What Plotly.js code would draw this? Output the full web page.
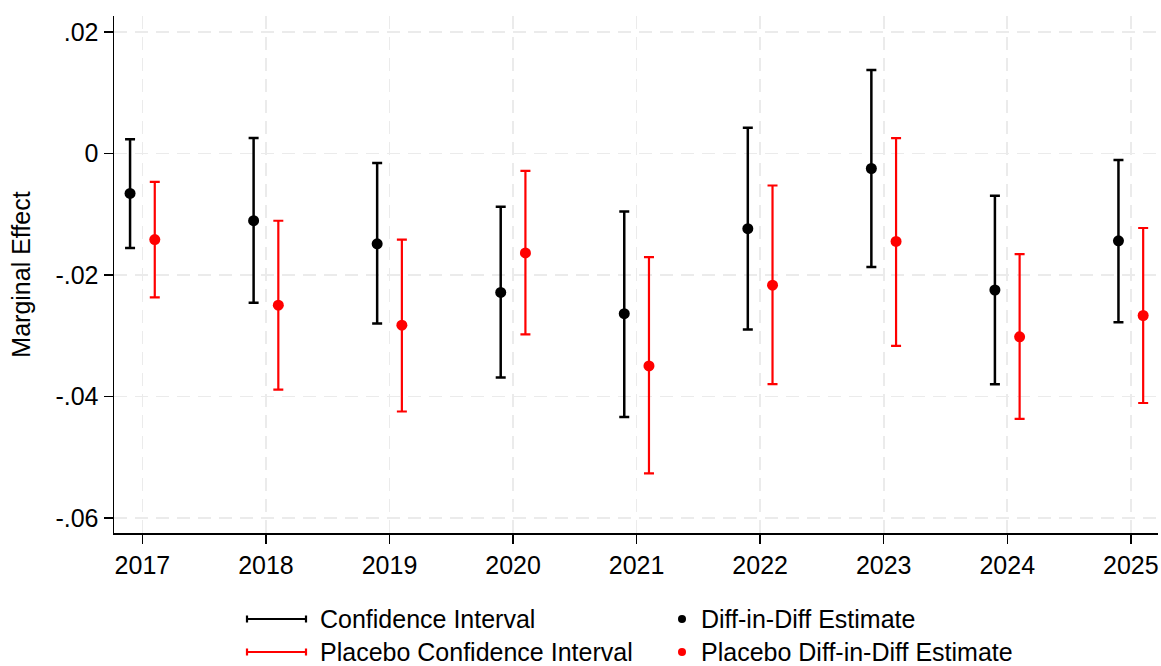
<!DOCTYPE html>
<html>
<head>
<meta charset="utf-8">
<script src="https://cdn.plot.ly/plotly-3.0.1.min.js"></script>
<style>html,body{margin:0;padding:0;background:#fff;}#chart{width:1161px;height:666px;}</style>
</head>
<body>
<div id="chart"></div>
<script>
// ---- data ----
const years = [2017, 2018, 2019, 2020, 2021, 2022, 2023, 2024, 2025];
const yearLabels = ["2017", "2018", "2019", "2020", "2021", "2022", "2023", "2024", "2025"];

const didEstimate = [-0.0066, -0.0111, -0.0149, -0.0229, -0.0264, -0.0124, -0.0025, -0.0225, -0.0144];
const didLower    = [-0.0156, -0.0246, -0.0280, -0.0369, -0.0434, -0.0290, -0.0187, -0.0380, -0.0278];
const didUpper    = [ 0.0023,  0.0025, -0.0016, -0.0088, -0.0096,  0.0042,  0.0137, -0.0070, -0.0011];

const placeboEstimate = [-0.0142, -0.0250, -0.0283, -0.0164, -0.0350, -0.0217, -0.0145, -0.0302, -0.0267];
const placeboLower    = [-0.0237, -0.0389, -0.0425, -0.0298, -0.0527, -0.0380, -0.0317, -0.0437, -0.0411];
const placeboUpper    = [-0.0047, -0.0111, -0.0142, -0.0029, -0.0171, -0.0053,  0.0025, -0.0166, -0.0123];

const yTickVals = [-0.06, -0.04, -0.02, 0, 0.02];
const yTickText = ["-.06", "-.04", "-.02", "0", ".02"];

const legendLabels = ["Confidence Interval", "Placebo Confidence Interval", "Diff-in-Diff Estimate", "Placebo Diff-in-Diff Estimate"];

// ---- layout constants ----
const W = 1161, H = 666;
const M = {l: 114, r: 3, t: 16, b: 133};
const plotW = W - M.l - M.r, plotH = H - M.t - M.b;
const FONT = "Arial, 'Liberation Sans', Helvetica, sans-serif";
const FS = 25;
const offset = 0.1;

function px2paperX(px) { return (px - M.l) / plotW; }
function px2paperY(py) { return (H - M.b - py) / plotH; }

function errTrace(est, lo, hi, dx, color, thick, name) {
  return {
    type: 'scatter', mode: 'markers', name: name, showlegend: false,
    x: years.map(v => v + dx), y: est,
    marker: {color: color, size: 11},
    error_y: {
      type: 'data', symmetric: false,
      array: hi.map((h, i) => h - est[i]),
      arrayminus: lo.map((l, i) => est[i] - l),
      color: color, thickness: thick, width: 5
    },
    hoverinfo: 'x+y'
  };
}

const traces = [
  errTrace(didEstimate, didLower, didUpper, -offset, '#000000', 2.5, legendLabels[2]),
  errTrace(placeboEstimate, placeboLower, placeboUpper, offset, '#ff0000', 2.2, legendLabels[3])
];

// ---- manual legend (Stata style) ----
const shapes = [];
const annotations = [];
const rowY = [619, 652];
const lineColors = ['#000000', '#ff0000'];
rowY.forEach((py, i) => {
  const yp = px2paperY(py);
  const capH = 3.5 / plotH;
  const x0 = px2paperX(247), x1 = px2paperX(306);
  shapes.push({type: 'line', xref: 'paper', yref: 'paper', x0: x0, x1: x1, y0: yp, y1: yp, line: {color: lineColors[i], width: 2.2}});
  shapes.push({type: 'line', xref: 'paper', yref: 'paper', x0: x0, x1: x0, y0: yp - capH, y1: yp + capH, line: {color: lineColors[i], width: 2.2}});
  shapes.push({type: 'line', xref: 'paper', yref: 'paper', x0: x1, x1: x1, y0: yp - capH, y1: yp + capH, line: {color: lineColors[i], width: 2.2}});
  annotations.push({xref: 'paper', yref: 'paper', x: px2paperX(318), y: yp, xanchor: 'left', yanchor: 'middle',
    text: legendLabels[i], showarrow: false, font: {family: FONT, size: FS, color: '#000'}});
  shapes.push({type: 'circle', xref: 'paper', yref: 'paper', xsizemode: 'pixel', ysizemode: 'pixel',
    xanchor: px2paperX(682), yanchor: yp, x0: -4, x1: 4, y0: -4, y1: 4,
    fillcolor: lineColors[i], line: {width: 0}});
  annotations.push({xref: 'paper', yref: 'paper', x: px2paperX(699), y: yp, xanchor: 'left', yanchor: 'middle',
    text: legendLabels[i + 2], showarrow: false, font: {family: FONT, size: FS, color: '#000'}});
});

const gridStyle = {gridcolor: '#ebebeb', gridwidth: 1.6, griddash: '13px,8px'};

const layout = {
  width: W, height: H,
  margin: M,
  paper_bgcolor: '#ffffff', plot_bgcolor: '#ffffff',
  font: {family: FONT, size: FS, color: '#000'},
  showlegend: false,
  xaxis: Object.assign({
    range: [2016.77, 2025.22],
    tickmode: 'array', tickvals: years, ticktext: yearLabels,
    showline: true, linecolor: '#000', linewidth: 1.5,
    ticks: 'outside', ticklen: 9, tickwidth: 1.5, tickcolor: '#000',
    showgrid: true, zeroline: false,
    tickfont: {family: FONT, size: FS, color: '#000'}
  }, gridStyle),
  yaxis: Object.assign({
    range: [-0.0625, 0.0226],
    tickmode: 'array', tickvals: yTickVals, ticktext: yTickText,
    showline: true, linecolor: '#000', linewidth: 1.5,
    ticks: 'outside', ticklen: 9, tickwidth: 1.5, tickcolor: '#000',
    showgrid: true, zeroline: false,
    tickfont: {family: FONT, size: FS, color: '#000'},
    title: {text: 'Marginal Effect', font: {family: FONT, size: FS, color: '#000'}, standoff: 17}
  }, gridStyle),
  shapes: shapes,
  annotations: annotations
};

Plotly.newPlot('chart', traces, layout, {displayModeBar: false, staticPlot: true});
</script>
</body>
</html>
